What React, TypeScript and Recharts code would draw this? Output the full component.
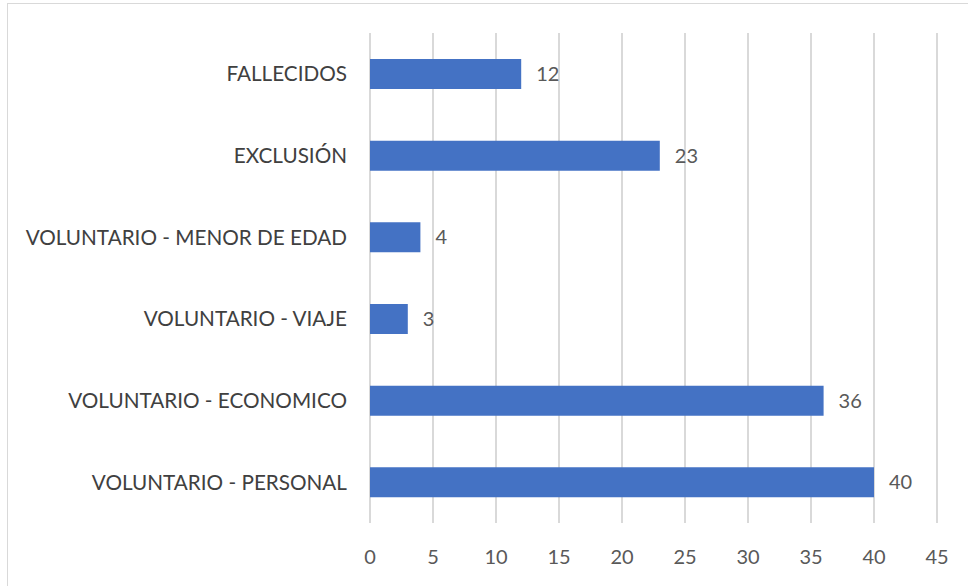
import { Bar, BarChart, CartesianGrid, LabelList, XAxis, YAxis } from "recharts";

const CATEGORIES = [
  "FALLECIDOS",
  "EXCLUSIÓN",
  "VOLUNTARIO - MENOR DE EDAD",
  "VOLUNTARIO - VIAJE",
  "VOLUNTARIO - ECONOMICO",
  "VOLUNTARIO - PERSONAL",
];
const COUNTS = [12, 23, 4, 3, 36, 40];
const X_TICKS = [0, 5, 10, 15, 20, 25, 30, 35, 40, 45];

const BAR_FILL = "#4472C4";
const FONT = "Lato, 'Open Sans', sans-serif";

const data = CATEGORIES.map((name, i) => ({ name, count: COUNTS[i] }));

export default function App() {
  return (
    <div
      style={{
        position: "fixed",
        left: 0,
        top: 0,
        width: 968,
        height: 586,
        background: "#fff",
        overflow: "hidden",
        fontFamily: FONT,
      }}
    >
      <div
        style={{
          position: "absolute",
          left: 7,
          top: 3,
          width: 980,
          height: 600,
          border: "1px solid #d9d9d9",
        }}
      />
      <div style={{ position: "absolute", left: 0, top: 0 }}>
        <BarChart
          width={968}
          height={586}
          data={data}
          layout="vertical"
          margin={{ top: 33, right: 31, left: 0, bottom: 23 }}
        >
          <CartesianGrid horizontal={false} stroke="#d9d9d9" strokeWidth={2} />
          <XAxis
            type="number"
            domain={[0, 45]}
            ticks={X_TICKS}
            axisLine={false}
            tickLine={false}
            tickMargin={21}
            height={40}
            tick={{ fill: "#595959", fontSize: 20, fontFamily: FONT }}
          />
          <YAxis
            type="category"
            dataKey="name"
            width={370}
            axisLine={false}
            tickLine={false}
            tickMargin={17}
            interval={0}
            tick={{ fill: "#404040", fontSize: 20.7, fontFamily: FONT }}
          />
          <Bar dataKey="count" fill={BAR_FILL} barSize={30} isAnimationActive={false}>
            <LabelList
              dataKey="count"
              position="right"
              offset={15}
              fill="#595959"
              fontSize={20}
              fontFamily={FONT}
            />
          </Bar>
        </BarChart>
      </div>
    </div>
  );
}
